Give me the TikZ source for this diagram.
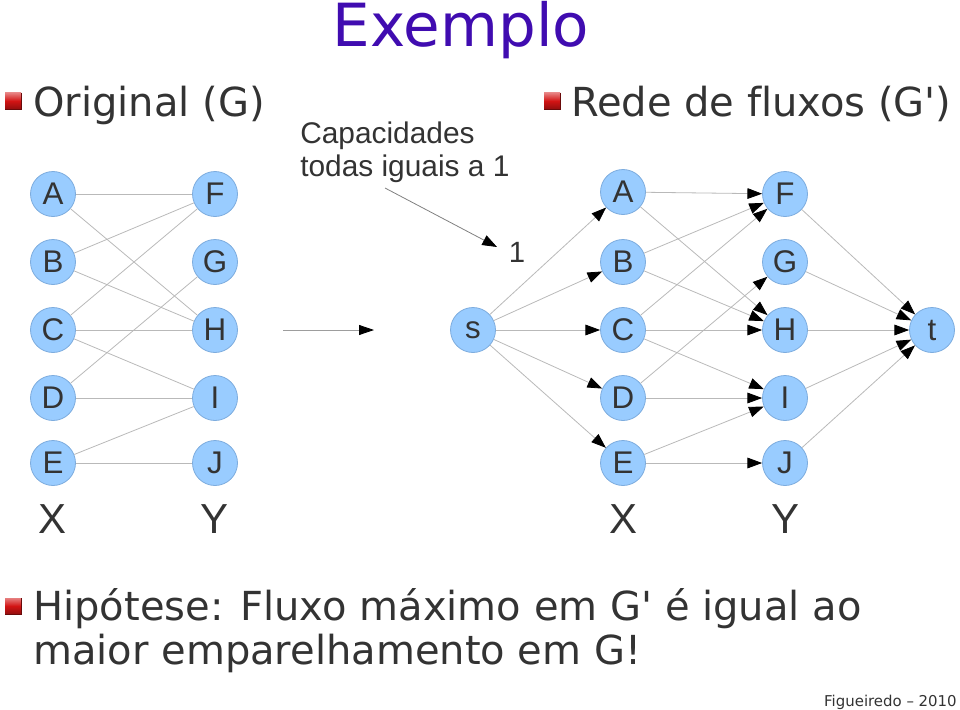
\documentclass[tikz,border=0pt]{standalone}
\usepackage{fontspec}
\setmainfont{DejaVu Sans}
\newfontfamily\djv[Ligatures=NoCommon]{DejaVu Sans}
\newfontfamily\arial{Liberation Sans}
\usetikzlibrary{arrows.meta}
\definecolor{nodefill}{RGB}{153,204,255}
\definecolor{nodeline}{RGB}{125,172,222}
\definecolor{txt}{RGB}{51,51,51}
\definecolor{edgegray}{RGB}{185,185,185}
\definecolor{titlecol}{RGB}{64,12,176}
\definecolor{bulletred}{RGB}{210,20,20}
\tikzset{
  vert/.style={circle, fill=nodefill, draw=nodeline, line width=0.6pt, minimum size=33.75pt, inner sep=0pt, text=txt, font=\arial\fontsize{23.5}{23.5}\selectfont},
  edge/.style={draw=edgegray, line width=0.6pt},
  arr/.style={edge, -{Triangle[length=11pt,width=8pt,color=black]}},
  side/.style={text=txt, font=\arial\fontsize{31.5}{31.5}\selectfont, anchor=base},
  head/.style={text=txt, font=\djv\fontsize{30}{30}\selectfont, anchor=base west, inner sep=0pt},
  note/.style={text=txt, font=\arial\fontsize{22.4}{22.4}\selectfont, anchor=base west, inner sep=0pt},
}
\newcommand{\redbullet}[2]{%
  \shade[top color=bulletred!55!white, bottom color=bulletred!70!black, middle color=bulletred] (#1,#2) rectangle ++(16,16);
  \draw[bulletred!50!black, line width=0.6pt] (#1+16,#2) -- (#1+16,#2+16) -- (#1,#2+16);
}
\begin{document}
\begin{tikzpicture}[x=0.75pt,y=-0.75pt]
\useasboundingbox (0,0) rectangle (960,710);

% title
\node[text=titlecol, font=\djv\fontsize{44.6}{44.6}\selectfont, anchor=base, inner sep=0pt] (title) at (461,47) {Exemplo};

% headings
\redbullet{5}{93}
\node[head] (hleft) at (33,116) {Original (G)};
\redbullet{544}{93}
\node[head] (hright) at (571,116) {Rede de fluxos (G')};

% left graph
\foreach \n/\y in {A/194,B/262,C/330,D/398,E/463} \node[vert] (l\n) at (53,\y) {\n};
\foreach \n/\y in {F/194,G/262,H/330,I/398,J/463} \node[vert] (l\n) at (215,\y) {\n};
\node[side] (lX) at (53,533) {X};
\node[side] (lY) at (215,533) {Y};
\foreach \a/\b in {A/F,A/H,B/F,B/H,C/F,C/H,C/I,D/G,D/I,E/I,E/J}
  \draw[edge] (l\a) -- (l\b);

% middle arrow
\coordinate (m1) at (283,330);
\coordinate (m2) at (374,330);
\draw[draw=edgegray!85!black, line width=0.6pt, -{Triangle[length=11.25pt,width=7.5pt,color=black]}] (m1) -- (m2);

% capacities note
\node[note] (cap1) at (300,143) {Capacidades};
\node[note] (cap2) at (300,176) {todas iguais a 1};
\node[text=txt, font=\arial\fontsize{22}{22}\selectfont, inner sep=0pt] (one) at (517,252) {1};
\coordinate (c1) at (385,188);
\coordinate (c2) at (497,247);
\draw[draw=gray, line width=0.6pt, -{Triangle[length=11pt,width=8pt,color=black]}] (c1) -- (c2);

% right graph
\node[vert] (s) at (473,330) {s};
\node[vert] (t) at (932,330) {t};
\foreach \n/\y in {A/192,B/262,C/330,D/398,E/463} \node[vert] (r\n) at (623,\y) {\n};
\foreach \n/\y in {F/194,G/262,H/330,I/398,J/463} \node[vert] (r\n) at (785,\y) {\n};
\node[side] (rX) at (623,533) {X};
\node[side] (rY) at (785,533) {Y};
\foreach \n in {A,B,C,D,E} \draw[arr] (s) -- (r\n);
\foreach \a/\b in {A/F,A/H,B/F,B/H,C/F,C/H,C/I,D/G,D/I,E/I,E/J}
  \draw[arr] (r\a) -- (r\b);
\foreach \n in {F,G,H,I,J} \draw[arr] (r\n) -- (t);

% hypothesis
\redbullet{5}{598}
\node[head] (hyp1) at (33,620) {Hipótese: Fluxo máximo em G' é igual ao};
\node[head] (hyp2) at (33,664) {maior emparelhamento em G!};

% credit
\node[text=txt, font=\djv\fontsize{11.2}{11.2}\selectfont, anchor=base east, inner sep=0pt] (credit) at (957,706) {Figueiredo – 2010};
\end{tikzpicture}
\end{document}
